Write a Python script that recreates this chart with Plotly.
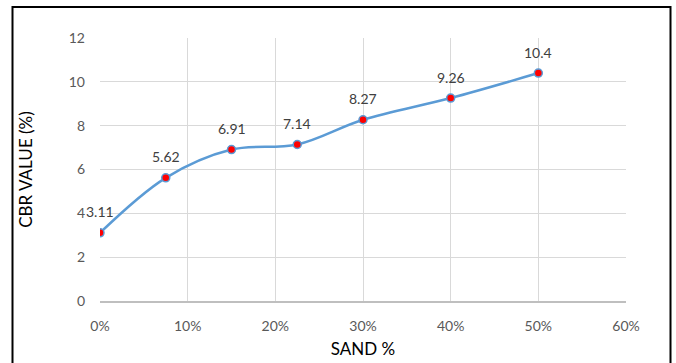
import plotly.graph_objects as go

# CBR test results versus sand content
sand_pct = [0, 7.5, 15, 22.5, 30, 40, 50]
cbr_value = [3.11, 5.62, 6.91, 7.14, 8.27, 9.26, 10.4]
cbr_labels = ["3.11", "5.62", "6.91", "7.14", "8.27", "9.26", "10.4"]

x_ticks = [0, 10, 20, 30, 40, 50, 60]
x_tick_text = ["0%", "10%", "20%", "30%", "40%", "50%", "60%"]
y_ticks = [0, 2, 4, 6, 8, 10, 12]

W, H = 676, 363
L, R, T, B = 100, 50, 38, 62
pw, ph = W - L - R, H - T - B

FONT = "Lato, 'Open Sans', sans-serif"
LINE_BLUE = "#5B9BD5"

fig = go.Figure()
fig.add_trace(go.Scatter(
    x=sand_pct, y=cbr_value,
    mode="lines+markers",
    line=dict(color=LINE_BLUE, width=2.5, shape="spline", smoothing=1.0),
    marker=dict(color="#FF0000", size=8, line=dict(color=LINE_BLUE, width=1.5)),
    showlegend=False, hoverinfo="skip",
))

# value labels above each point
for xv, yv, lab in zip(sand_pct, cbr_value, cbr_labels):
    fig.add_annotation(x=xv, y=yv, text=lab, showarrow=False,
                       yshift=21, font=dict(family=FONT, size=14, color="#404040"))

# outer black frame around the chart
def px_x(p):
    return (p - L) / pw

def px_y(p):
    return (H - B - p) / ph

fig.add_shape(type="rect", xref="paper", yref="paper",
              x0=px_x(12.5), x1=px_x(670.5), y0=px_y(372), y1=px_y(7),
              line=dict(color="#000000", width=2), fillcolor="rgba(0,0,0,0)", layer="above")

fig.update_layout(
    width=W, height=H,
    margin=dict(l=L, r=R, t=T, b=B, autoexpand=False),
    paper_bgcolor="white", plot_bgcolor="white",
    font=dict(family=FONT, color="#595959"),
    xaxis=dict(
        range=[0, 60], tickvals=x_ticks, ticktext=x_tick_text,
        showgrid=True, gridcolor="#D9D9D9", gridwidth=1,
        showline=True, linecolor="#BFBFBF", linewidth=2,
        zeroline=False, ticks="", ticklabelstandoff=11,
        tickfont=dict(family=FONT, size=14, color="#595959"),
        title=dict(text="SAND %", font=dict(family=FONT, size=17, color="#000000"), standoff=10),
        automargin=False, fixedrange=True,
    ),
    yaxis=dict(
        range=[0, 12], tickvals=y_ticks,
        showgrid=True, gridcolor="#D9D9D9", gridwidth=1,
        showline=False, zeroline=False, ticks="", ticklabelstandoff=14,
        tickfont=dict(family=FONT, size=14, color="#595959"),
        title=dict(text="CBR VALUE (%)", font=dict(family=FONT, size=17, color="#000000"), standoff=31),
        automargin=False, fixedrange=True,
    ),
)

fig.write_html("out.html")
